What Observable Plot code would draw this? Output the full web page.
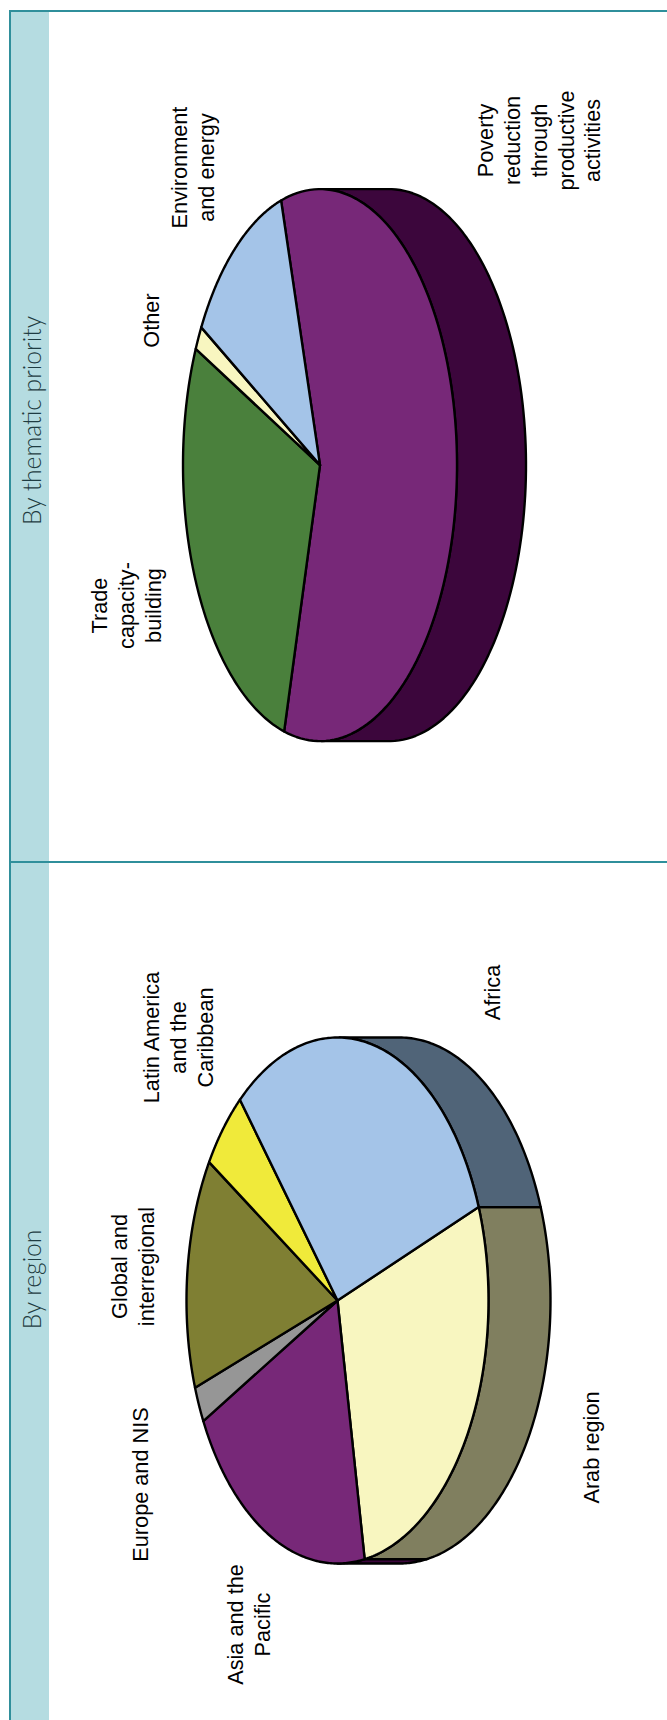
<!DOCTYPE html>
<html>
<head>
<meta charset="utf-8">
<script src="https://cdn.jsdelivr.net/npm/d3@7"></script>
<script src="https://cdn.jsdelivr.net/npm/@observablehq/plot@0.6"></script>
<style>
  html, body { margin: 0; padding: 0; background: #fff; }
  .panel { position: relative; width: 667px; overflow: hidden; }
  .panel svg { position: absolute; left: 0; top: 0; background: transparent; }
  .rule { position: absolute; left: 9px; right: 0; height: 2px; background: #2f8f9b; }
  .spine { position: absolute; left: 9px; width: 2px; top: 0; bottom: 0; background: #2f8f9b; }
  .strip { position: absolute; left: 11px; width: 38px; top: 0; bottom: 0; background: #b5dce1; }
</style>
</head>
<body>
<div id="chart"></div>
<script>
// ---- data: share of each pie, in percent, in drawing order ----
const thematicNames = ["Poverty reduction through productive activities", "Trade capacity-building", "Other", "Environment and energy"];
const thematicShares = [58.8, 27.7, 1.4, 12.1];
const thematicTitle = "By thematic priority";
const thematicLabels = ["Poverty\nreduction\nthrough\nproductive\nactivities", "Trade\ncapacity-\nbuilding", "Other", "Environment\nand energy"];

const regionNames = ["Arab region", "Asia and the Pacific", "Europe and NIS", "Global and interregional", "Latin America and the Caribbean", "Africa"];
const regionShares = [27.9, 20.3, 2.2, 14.2, 5.0, 30.4];
const regionTitle = "By region";
const regionLabels = ["Arab region", "Asia and the\nPacific", "Europe and NIS", "Global and\ninterregional", "Latin America\nand the\nCaribbean", "Africa"];

// ---- styling, separate from the values ----
const thematicTop  = ["#772878", "#4a803c", "#f8f6c0", "#a4c4e8"];
const thematicSide = ["#3c063c", "#25401e", "#7c7b60", "#526274"];
const regionTop  = ["#f8f6c0", "#772878", "#969696", "#7f7f33", "#f0ea3a", "#a4c4e8"];
const regionSide = ["#807f5f", "#3c063c", "#4b4b4b", "#40401a", "#78751d", "#506478"];

// ---- layout in page pixels ----
const thematicLayout = {
  top: 0, height: 861, ruleY: 10, titleY: 420,
  cx: 319.5, cy: 464.6, rx: 137, ry: 276, depth: 69, startDeg: -106.5,
  labelX: [537.5, 125, 150, 191], labelY: [140, 605, 320, 167]
};
const regionLayout = {
  top: 861, height: 859, ruleY: 0, titleY: 418,
  cx: 337, cy: 439, rx: 151, ry: 263, depth: 62, startDeg: -20.8,
  labelX: [589.5, 247.5, 138.5, 131, 176.5, 491], labelY: [586, 763, 623, 405, 176, 131]
};

const ink = "#000";

function piePanel(names, shares, labels, title, topColors, sideColors, L) {
  const total = d3.sum(shares);
  const rad = d => d * Math.PI / 180;
  const faces = [], walls = [];
  let a = L.startDeg;
  names.forEach((name, i) => {
    const span = shares[i] / total * 360;
    const a0 = a, a1 = a + span;
    a = a1;
    const arc = d3.range(0, 121).map(k => rad(a0 + (a1 - a0) * k / 120));
    // top face in pie units: centre, then the rim, then closed on the centre
    faces.push({name, u: 0, v: 0});
    arc.forEach(t => faces.push({name, u: Math.cos(t), v: Math.sin(t)}));
    faces.push({name, u: 0, v: 0});
    // side wall: only the part on the right of the pie is visible
    const vis = [];
    for (const t of arc) {
      const deg = ((t * 180 / Math.PI) % 360 + 540) % 360 - 180;
      if (deg >= -90 && deg <= 90) vis.push(t);
    }
    if (vis.length > 1) {
      const d = L.depth / L.rx;
      const wall = [
        ...vis.map(t => ({name, u: Math.cos(t) + d, v: Math.sin(t)})),
        ...vis.slice().reverse().map(t => ({name, u: Math.cos(t), v: Math.sin(t)}))
      ];
      wall.push(wall[0]);
      wall.forEach(p => walls.push(p));
    }
  });
  const labelRows = labels.map((text, i) => ({
    text,
    u: (L.labelX[i] - L.cx) / L.rx,
    v: (L.labelY[i] - L.cy) / L.ry
  }));
  return Plot.plot({
    width: 667,
    height: L.height,
    margin: 0,
    style: {background: "transparent", overflow: "visible"},
    x: {domain: [-1, 1], range: [L.cx - L.rx, L.cx + L.rx], axis: null},
    y: {domain: [-1, 1], range: [L.cy - L.ry, L.cy + L.ry], axis: null},
    color: {domain: names, range: topColors},
    marks: [
      // side walls use the same slices with the darker palette
      ...names.map((n, i) => Plot.line(walls.filter(w => w.name === n), {
        x: "u", y: "v", fill: sideColors[i], stroke: ink, strokeWidth: 2.4, strokeLinejoin: "round"
      })),
      Plot.line(faces, {
        x: "u", y: "v", z: "name", fill: "name", stroke: ink, strokeWidth: 2.4, strokeLinejoin: "round"
      }),
      Plot.text(labelRows, {
        x: "u", y: "v", text: "text", rotate: -90, lineHeight: 1.24,
        fontFamily: "Liberation Sans, Arial, sans-serif", fontSize: 21.7, fill: "#000",
        textAnchor: "middle", lineAnchor: "middle"
      }),
      Plot.text([title], {
        frameAnchor: "top-left", dx: 33, dy: L.titleY, rotate: -90,
        fontFamily: "Lato, sans-serif", fontWeight: 300, fontSize: 24.6, fill: "#1f3c42",
        textAnchor: "middle", lineAnchor: "middle"
      })
    ]
  });
}

function addPanel(svg, L) {
  const div = document.createElement("div");
  div.className = "panel";
  div.style.height = L.height + "px";
  const strip = document.createElement("div"); strip.className = "strip";
  if (L.ruleY) strip.style.top = L.ruleY + "px";
  const spine = document.createElement("div"); spine.className = "spine";
  if (L.ruleY) spine.style.top = L.ruleY + "px";
  const rule = document.createElement("div"); rule.className = "rule"; rule.style.top = L.ruleY + "px";
  div.append(strip, svg, spine, rule);
  document.getElementById("chart").append(div);
}

addPanel(piePanel(thematicNames, thematicShares, thematicLabels, thematicTitle, thematicTop, thematicSide, thematicLayout), thematicLayout);
addPanel(piePanel(regionNames, regionShares, regionLabels, regionTitle, regionTop, regionSide, regionLayout), regionLayout);
</script>
</body>
</html>
